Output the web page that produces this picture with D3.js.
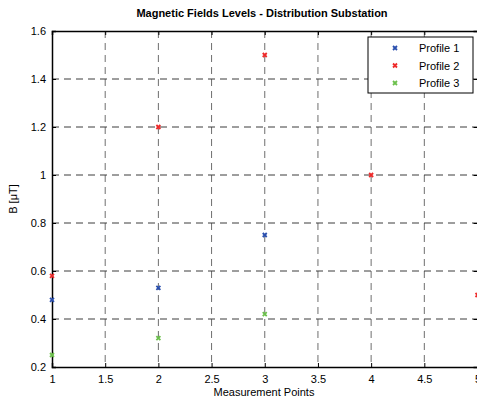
<!DOCTYPE html>
<html>
<head>
<meta charset="utf-8">
<script src="https://cdn.jsdelivr.net/npm/d3@7"></script>
<style>
  body { margin: 0; background: #fff; }
  text { font-family: "Liberation Sans", Arial, sans-serif; }
</style>
</head>
<body>
<script>
"use strict";

// measurement points along x
const points = [1, 2, 3, 4, 5];

// B values in microtesla, one array per profile
const profile1 = [0.48, 0.53, 0.75];
const profile2 = [0.58, 1.2, 1.5, 1.0, 0.5];
const profile3 = [0.25, 0.32, 0.42];

const seriesNames = ["Profile 1", "Profile 2", "Profile 3"];
const seriesColors = ["#2a4fae", "#ee2a2a", "#6cc04c"];

const xTicks = [1, 1.5, 2, 2.5, 3, 3.5, 4, 4.5, 5];
const yTicks = [0.2, 0.4, 0.6, 0.8, 1, 1.2, 1.4, 1.6];

const m = { width: 477, height: 400, left: 52, top: 31, right: 0, bottom: 33 }
const w = 425.5
const h = 336

const svg = d3.select("body").append("svg")
    .attr("width", m.width)
    .attr("height", m.height)

const g = svg.append("g")
    .attr("transform", `translate(${m.left},${m.top})`)

const x = d3.scaleLinear().domain([1, 5]).range([0, w])
const y = d3.scaleLinear().domain([0.2, 1.6]).range([h, 0])

// grid lines
g.selectAll(".vgrid")
    .data(xTicks.slice(1, -1))
    .enter()
    .append("line")
    .attr("x1", d => x(d)).attr("x2", d => x(d))
    .attr("y1", 0).attr("y2", h)
    .attr("stroke", "#6e6e6e")
    .attr("stroke-width", 1)
    .attr("stroke-dasharray", "7,5")

g.selectAll(".hgrid")
    .data(yTicks.slice(1, -1))
    .enter()
    .append("line")
    .attr("x1", 0).attr("x2", w)
    .attr("y1", d => y(d)).attr("y2", d => y(d))
    .attr("stroke", "#3c3c3c")
    .attr("stroke-width", 1)
    .attr("stroke-dasharray", "7,5")

// axes with inward ticks
const fmt = d => d3.format("")(d)
const xAxis = g.append("g")
    .attr("transform", `translate(0,${h})`)
    .call(d3.axisBottom(x).tickValues(xTicks).tickSize(-4).tickPadding(8).tickFormat(fmt))
const yAxis = g.append("g")
    .call(d3.axisLeft(y).tickValues(yTicks).tickSize(-4).tickPadding(6).tickFormat(fmt))
const topAxis = g.append("g")
    .call(d3.axisTop(x).tickValues(xTicks).tickSize(-4).tickFormat(""))
const rightAxis = g.append("g")
    .attr("transform", `translate(${w},0)`)
    .call(d3.axisRight(y).tickValues(yTicks).tickSize(-4).tickFormat(""))

;[xAxis, yAxis, topAxis, rightAxis].forEach(a => {
    a.select(".domain").attr("stroke", "#000").attr("stroke-width", 1.5)
    a.selectAll(".tick line").attr("stroke", "#000")
    a.selectAll("text")
        .attr("font-family", "Liberation Sans, Arial, sans-serif")
        .attr("font-size", 11)
        .attr("fill", "#000")
})

// markers
const allSeries = [profile1, profile2, profile3]
const markers = []
allSeries.forEach((vals, i) => {
    vals.forEach((v, j) => markers.push({ x: points[j], y: v, c: seriesColors[i] }))
})

const xMark = g.selectAll(".mark")
    .data(markers)
    .enter()
    .append("path")
    .attr("class", "mark")
    .attr("d", d => {
        const px = x(d.x), py = y(d.y), s = 2
        return `M${px - s},${py - s}L${px + s},${py + s}M${px - s},${py + s}L${px + s},${py - s}`
    })
    .attr("stroke", d => d.c)
    .attr("stroke-width", 1.8)
    .attr("fill", "none")

// legend
const lg = svg.append("g").attr("transform", "translate(368,37)")
lg.append("rect")
    .attr("width", 105).attr("height", 56)
    .attr("fill", "#fff").attr("stroke", "#000").attr("stroke-width", 1)
seriesNames.forEach((name, i) => {
    const ly = 11 + i * 17.5
    lg.append("path")
        .attr("d", `M25,${ly - 2}L29,${ly + 2}M25,${ly + 2}L29,${ly - 2}`)
        .attr("stroke", seriesColors[i]).attr("stroke-width", 1.8)
    lg.append("text")
        .attr("x", 51).attr("y", ly + 4)
        .attr("font-size", 11)
        .text(name)
})

// title and labels
svg.append("text")
    .attr("x", 262).attr("y", 17)
    .attr("text-anchor", "middle")
    .attr("font-size", 11)
    .attr("font-weight", "bold")
    .text("Magnetic Fields Levels - Distribution Substation")

svg.append("text")
    .attr("x", 264).attr("y", 396)
    .attr("text-anchor", "middle")
    .attr("font-size", 11)
    .text("Measurement Points")

svg.append("text")
    .attr("transform", "translate(17,199) rotate(-90)")
    .attr("text-anchor", "middle")
    .attr("font-size", 11)
    .text("B [\u03BCT]")
</script>
</body>
</html>
